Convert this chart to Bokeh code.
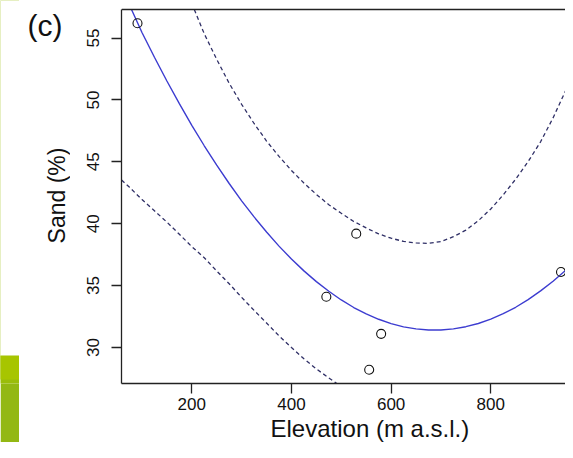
import math
import numpy as np
from bokeh.plotting import figure
from bokeh.models import Range1d, FixedTicker, Span, Title
from bokeh.layouts import row
from bokeh.core.properties import value
from bokeh.embed import file_html
from bokeh.resources import INLINE

# observed points
elev_obs = [91, 470, 530, 556, 580, 941]
sand_obs = [56.2, 34.1, 39.2, 28.2, 31.1, 36.1]

# fitted curve (starts where it enters the box)
fit_x = [79, 100, 125, 150, 175, 200, 225, 250, 275, 300, 325, 350, 375, 400,
         425, 450, 475, 500, 525, 550, 575, 600, 625, 650, 675, 700, 725, 750,
         775, 800, 825, 850, 875, 900, 925, 950, 960]
fit_y = [57.31, 55.45, 53.45, 51.53, 49.70, 47.95, 46.30, 44.73, 43.25, 41.85,
         40.55, 39.33, 38.19, 37.15, 36.19, 35.32, 34.54, 33.84, 33.23, 32.71, 32.28,
         31.93, 31.67, 31.50, 31.41, 31.41, 31.50, 31.68, 31.94, 32.29, 32.73, 33.25,
         33.87, 34.57, 35.35, 36.23, 36.60]
# upper band (starts where it enters the box)
upper_x = [205, 225, 250, 275, 300, 325, 350, 375, 400, 425, 450, 475, 500, 525,
           550, 575, 600, 625, 650, 675, 700, 725, 750, 775, 800, 825, 850, 875,
           900, 925, 950, 960]
upper_y = [57.31, 55.35, 53.28, 51.35, 49.65, 48.10, 46.68, 45.44, 44.30, 43.29,
           42.37, 41.54, 40.84, 40.18, 39.66, 39.18, 38.83, 38.57, 38.45, 38.41,
           38.56, 38.95, 39.48, 40.24, 41.19, 42.33, 43.60, 45.02, 46.62, 48.55,
           50.73, 51.70]
# lower band
lower_x = [59, 75, 100, 125, 150, 175, 200, 225, 250, 275, 300, 325, 350, 375, 400,
           425, 450, 475, 500, 525, 550]
lower_y = [43.53, 42.94, 41.95, 41.05, 40.13, 39.15, 38.15, 37.25, 36.18, 35.15, 34.05,
           33.00, 31.98, 30.94, 30.00, 29.09, 28.27, 27.54, 26.84, 26.28, 25.76]

x_ticks = [200, 400, 600, 800]
y_ticks = [30, 35, 40, 45, 50, 55]
x_title = "Elevation (m a.s.l.)"
y_title = "Sand (%)"
panel_tag = "(c)"

FONT = "Liberation Sans"
H = 442
B = 383            # expected frame bottom (px from top)
BOX_TOP_PX = 9     # box top line position (px from top)
X_MIN, X_MAX = 58.9, 950
Y_MIN, Y_BOX = 27.09, 57.31
Y_TOP = Y_BOX + BOX_TOP_PX * (Y_BOX - Y_MIN) / (B - BOX_TOP_PX)
GREEN_W, LEFT_W = 19, 51

# ---------------- main plot ----------------
p = figure(width=565 - GREEN_W - LEFT_W, height=H, output_backend="svg",
           toolbar_location=None,
           x_range=Range1d(X_MIN, X_MAX), y_range=Range1d(Y_MIN, Y_TOP),
           min_border_left=LEFT_W, min_border_right=0, min_border_top=0,
           min_border_bottom=H - B)
p.outline_line_color = None
p.grid.visible = False
p.background_fill_color = "white"
p.border_fill_color = "white"

xa = p.below[0]
ya = p.left[0]
for ax in (xa, ya):
    ax.axis_line_color = "#222222"
    ax.axis_line_width = 1.3
    ax.major_tick_line_color = "#222222"
    ax.major_tick_line_width = 1.3
    ax.major_tick_out = 10
    ax.major_tick_in = 0
    ax.minor_tick_line_color = None
    ax.major_label_text_font = FONT
    ax.major_label_text_font_size = "17px"
    ax.major_label_text_color = "#111111"
xa.ticker = FixedTicker(ticks=x_ticks)
ya.ticker = FixedTicker(ticks=y_ticks)
ya.bounds = (Y_MIN, Y_BOX)
ya.major_label_orientation = "vertical"
xa.major_label_standoff = 4
ya.major_label_standoff = 12

p.add_layout(Title(text=x_title, align="left", offset=149, standoff=0,
                   text_font=FONT, text_font_size="24px", text_font_style="normal",
                   text_color="#111111"), "below")

# top edge of the box
p.add_layout(Span(location=Y_BOX, dimension="width", line_color="#222222", line_width=1.3))

p.line(upper_x, upper_y, line_color="#2f2f66", line_width=1.3, line_dash="4 3")
p.line(lower_x, lower_y, line_color="#2f2f66", line_width=1.3, line_dash="4 3")
p.line(fit_x, fit_y, line_color="#3c3cd0", line_width=1.4)
p.scatter(elev_obs, sand_obs, marker="circle", size=9, fill_color=None,
          line_color="#111111", line_width=1.1)

# ---------------- left strips ----------------
def strip(width, bg_color, border_color):
    f = figure(width=width, height=H, output_backend="svg", toolbar_location=None,
               x_range=Range1d(0, width), y_range=Range1d(H - B, H),
               x_axis_location=None, y_axis_location=None,
               min_border_left=0, min_border_right=0, min_border_top=0,
               min_border_bottom=H - B)
    f.outline_line_color = None
    f.grid.visible = False
    f.background_fill_color = bg_color
    f.border_fill_color = border_color
    return f

# panel tag and y title
lf = strip(LEFT_W, "white", "white")
lf.text(x=[8], y=[H - 8], text=[panel_tag], text_font=value(FONT),
        text_font_size="30px", text_color="#111111", text_baseline="top", text_align="left")
lf.text(x=[37], y=[H - 195], text=[y_title], angle=math.pi / 2, text_font=value(FONT),
        text_font_size="23px", text_color="#111111", text_baseline="middle",
        text_align="center")

# green bar at the lower left edge
gf = strip(GREEN_W, "#9abd0a", "#93b813")
gf.quad(left=[-1, -1], right=[GREEN_W + 1, GREEN_W + 1],
        top=[H - 355, H + 10], bottom=[H - 379, H - 355],
        fill_color=["#a7c500", "white"], line_color=None)

layout = row(gf, lf, p, spacing=0)
open("out.html", "w").write(file_html(layout, INLINE))
